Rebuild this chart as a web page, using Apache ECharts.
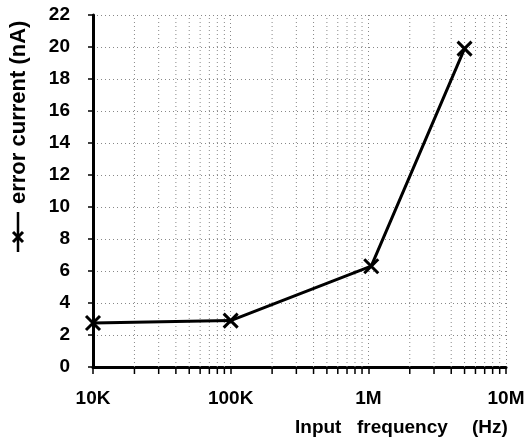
<!DOCTYPE html>
<html>
<head>
<meta charset="utf-8">
<script src="https://cdn.jsdelivr.net/npm/echarts@6/dist/echarts.min.js"></script>
<style>html,body{margin:0;padding:0;background:#fff;}#c{width:528px;height:438px;}</style>
</head>
<body>
<div id="c"></div>
<script>
const freqs = [1e4, 1e5, 1.05e6, 5e6];
const currents = [2.75, 2.9, 6.3, 19.9];
const minorFreqs = [2e4,3e4,4e4,5e4,6e4,7e4,8e4,9e4,
                    2e5,3e5,4e5,5e5,6e5,7e5,8e5,9e5,
                    2e6,3e6,4e6,5e6,6e6,7e6,8e6,9e6];
const xTickLabels = {10000:'10K', 100000:'100K', 1000000:'1M', 10000000:'10M'};
const yMin = 0, yMax = 22, yStep = 2;
const xNameWords = ['Input', 'frequency', '(Hz)'];
const yName = 'error current (nA)';

const FONT = '"Liberation Sans", Arial, Helvetica, sans-serif';
const chart = echarts.init(document.getElementById('c'));
const xNameLefts = [295, 357, 472];
chart.setOption({
  animation: false,
  backgroundColor: '#fff',
  grid: {left: 93, right: 22, top: 15, bottom: 71},
  xAxis: {
    type: 'log', logBase: 10, min: 1e4, max: 1e7,
    axisLine: {show: true, lineStyle: {color: '#000', width: 3}},
    axisTick: {show: true, length: 7, lineStyle: {color: '#000', width: 1.5}},
    axisLabel: {
      margin: 22, color: '#000', fontSize: 19, fontWeight: 'bold', fontFamily: FONT,
      formatter: v => xTickLabels[Math.round(v)] || ''
    },
    splitLine: {show: true, lineStyle: {color: '#888', width: 1, type: [1, 3]}},
    minorTick: {show: false}
  },
  yAxis: {
    type: 'value', min: yMin, max: yMax, interval: yStep,
    axisLine: {show: true, lineStyle: {color: '#000', width: 3}},
    axisTick: {show: true, length: 5, lineStyle: {color: '#000', width: 1.5}},
    axisLabel: {margin: 23, color: '#000', fontSize: 19, fontWeight: 'bold', fontFamily: FONT},
    splitLine: {show: true, lineStyle: {color: '#888', width: 1, type: [1, 3]}}
  },
  graphic: xNameWords.map((w, i) => ({
      type: 'text', left: xNameLefts[i], top: 418,
      style: {text: w, fontSize: 19, fontWeight: 'bold', fontFamily: FONT, fill: '#000'}
    })).concat([
    {type: 'text', position: [19, 204], rotation: Math.PI / 2,
     style: {text: yName, fontSize: 22, fontWeight: 'bold', fontFamily: FONT, fill: '#000',
             align: 'left', verticalAlign: 'middle'}},
    {type: 'line', shape: {x1: 18, y1: 212, x2: 18, y2: 252},
     style: {stroke: '#000', lineWidth: 2.5}},
    {type: 'polyline', shape: {points: [[13, 232], [23, 242]]},
     style: {stroke: '#000', lineWidth: 3}},
    {type: 'polyline', shape: {points: [[23, 232], [13, 242]]},
     style: {stroke: '#000', lineWidth: 3}}
  ]),
  series: [
    {
      type: 'custom', clip: false, silent: true, z: 1,
      data: minorFreqs.map(f => [f]),
      renderItem: function (params, api) {
        const x = api.value(0);
        const p0 = api.coord([x, yMin]);
        const p1 = api.coord([x, yMax]);
        return {type: 'group', children: [
          {type: 'line', shape: {x1: p0[0], y1: p0[1], x2: p1[0], y2: p1[1]},
           style: {stroke: '#888', lineWidth: 1, lineDash: [1, 3]}},
          {type: 'line', shape: {x1: p0[0], y1: p0[1], x2: p0[0], y2: p0[1] + 7},
           style: {stroke: '#000', lineWidth: 1.5}}
        ]};
      }
    },
    {
      type: 'line', z: 5,
      data: freqs.map((f, i) => [f, currents[i]]),
      lineStyle: {color: '#000', width: 3},
      symbol: 'path://M0,0L10,10M10,0L0,10',
      symbolSize: 14,
      itemStyle: {color: 'transparent', borderColor: '#000', borderWidth: 3},
      showSymbol: true
    }
  ]
});
</script>
</body>
</html>
